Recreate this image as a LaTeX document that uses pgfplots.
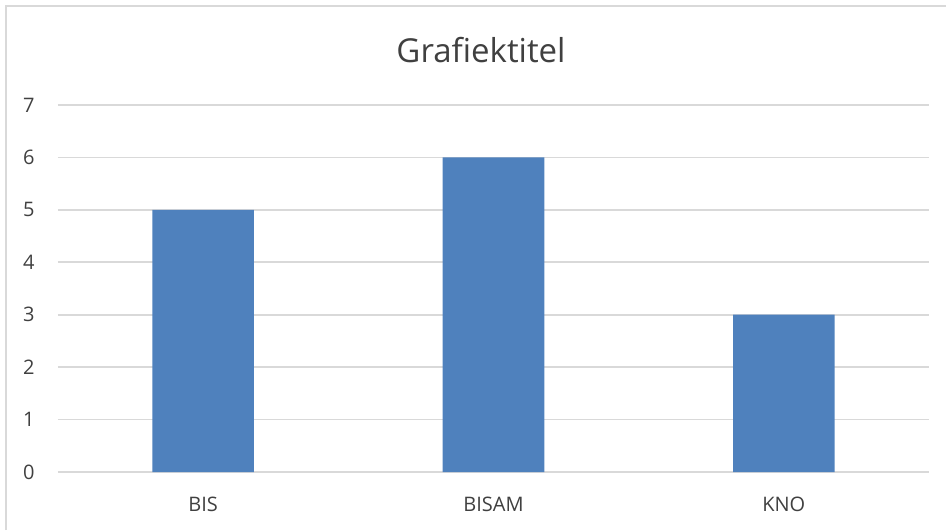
\documentclass[border=0pt]{standalone}
\usepackage{pgfplots}
\pgfplotsset{compat=1.18}
\usepackage{fontspec}
\setmainfont{Open Sans}
\definecolor{barblue}{HTML}{4F81BD}
\definecolor{gridgray}{HTML}{D9D9D9}
\definecolor{txtgray}{HTML}{404040}
\begin{document}
\begin{tikzpicture}
% 1px = 0.5pt; axis origin at pixel (58,472)
\useasboundingbox (-29pt,-29pt) rectangle (444pt,236pt);
\draw[gridgray, line width=0.8pt] (-26pt,-29pt) -- (-26pt,233pt) -- (444pt,233pt);
\begin{axis}[
  scale only axis,
  width=435.5pt, height=183.5pt,
  xmin=-0.5, xmax=2.5,
  ymin=0, ymax=7,
  ytick={0,1,2,3,4,5,6,7},
  xtick=data,
  xticklabels={BIS,BISAM,KNO},
  axis line style={draw=none},
  major tick style={draw=none},
  ymajorgrids,
  major grid style={gridgray, line width=0.8pt},
  ticklabel style={font=\fontsize{10}{12}\selectfont, text=txtgray},
  yticklabel style={anchor=east, inner sep=0pt, xshift=-11.5pt},
  xticklabel style={anchor=north, inner sep=0pt, yshift=-12.5pt},
  /pgf/number format/assume math mode=true,
]
\addplot[ybar, bar width=0.35, fill=barblue, draw=none] coordinates {
  (0, 5)
  (1, 6)
  (2, 3)
};
\end{axis}
\node[text=txtgray, font=\fontsize{16.5}{20}\selectfont] at (211.5pt,211pt) {Grafiektitel};
\end{tikzpicture}
\end{document}
